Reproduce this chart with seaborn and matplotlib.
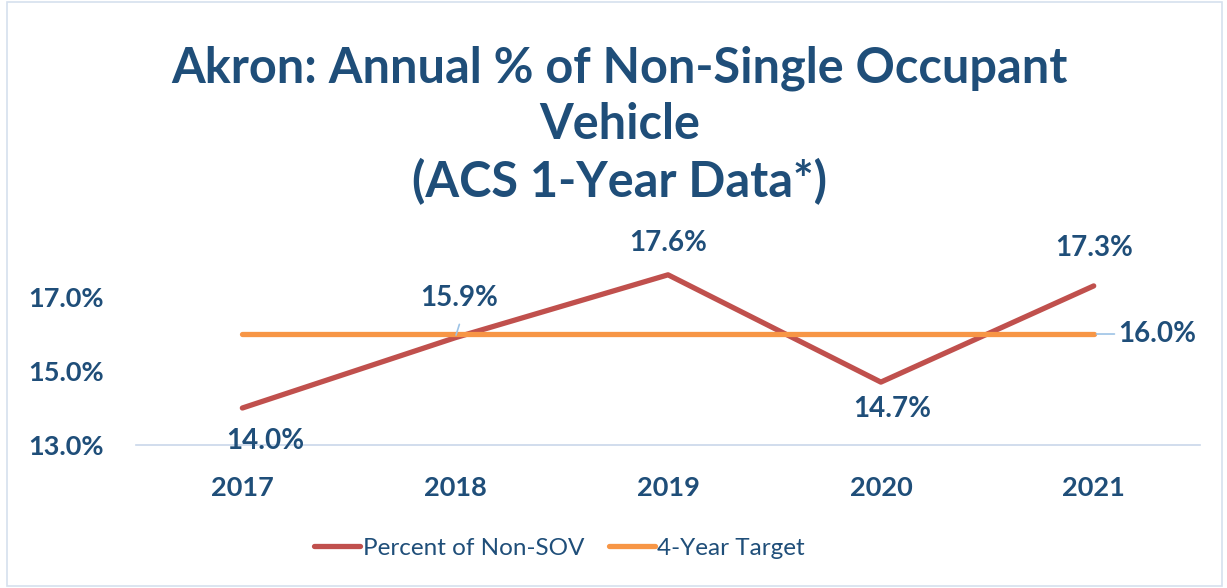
import numpy as np
import pandas as pd
import matplotlib
matplotlib.use('Agg')
import matplotlib.pyplot as plt
from matplotlib.patches import Rectangle
import seaborn as sns

years = ['2017', '2018', '2019', '2020', '2021']
non_sov = [14.0, 15.9, 17.6, 14.7, 17.3]
target = [16.0, 16.0, 16.0, 16.0, 16.0]
y_ticks = [13.0, 15.0, 17.0]

series_names = ['Percent of Non-SOV', '4-Year Target']
colors = ['#C0504D', '#F79646']
text_color = '#1F4E79'
axis_color = '#C9D7EA'

df = pd.DataFrame({
    'year': years * 2,
    'value': non_sov + target,
    'series': [series_names[0]] * len(years) + [series_names[1]] * len(years),
})
df['x'] = df['year'].map({y: i for i, y in enumerate(years)})

sns.set_theme(style='white')
plt.rcParams['font.family'] = ['Lato', 'DejaVu Sans']

fig = plt.figure(figsize=(12.27, 5.88), dpi=100)
ax = fig.add_axes([0.1108, 0.2432, 0.8673, 0.3146])

sns.lineplot(data=df, x='x', y='value', hue='series', palette=colors,
             linewidth=3.8, ax=ax, legend=False, solid_capstyle='round')

ax.set_xlim(-0.5, len(years) - 0.5)
ax.set_ylim(13, 18)
ax.set_xticks(range(len(years)))
ax.set_xticklabels(years)
ax.set_yticks(y_ticks)
ax.set_yticklabels([f'{v:.1f}%' for v in y_ticks])
ax.set_xlabel('')
ax.set_ylabel('')

for s in ['top', 'right', 'left']:
    ax.spines[s].set_visible(False)
ax.spines['bottom'].set_color(axis_color)
ax.spines['bottom'].set_linewidth(1.2)

# category tick marks between years
ax.set_xticks(np.arange(-0.5, len(years), 1), minor=True)
ax.tick_params(axis='x', which='minor', length=8, color=axis_color, width=1.2, direction='out')
ax.tick_params(axis='x', which='major', length=0, pad=22, labelsize=19.5, labelcolor=text_color)
ax.tick_params(axis='y', length=0, pad=23, labelsize=19.5, labelcolor=text_color)
for lab in ax.get_xticklabels() + ax.get_yticklabels():
    lab.set_fontweight('bold')

# data labels
label_offsets = [(23, -33), (4, 40), (0, 32), (11, -27), (0, 38)]
for i, (v, off) in enumerate(zip(non_sov, label_offsets)):
    ax.annotate(f'{v:.1f}%', (i, v), xytext=off, textcoords='offset pixels',
                ha='center', va='center', fontsize=20, fontweight='bold',
                color=text_color, annotation_clip=False)

# leader line for 2018 label
ax.annotate('', (1, non_sov[1]), xytext=(5, 16), textcoords='offset pixels',
            arrowprops=dict(arrowstyle='-', color='#9DC3E6', lw=1.2))

last = len(years) - 1
ax.annotate(f'{target[last]:.1f}%', (last, target[last]), xytext=(24, 0),
            textcoords='offset pixels', ha='left', va='center', fontsize=20,
            fontweight='bold', color=text_color, annotation_clip=False,
            arrowprops=dict(arrowstyle='-', color='#9DC3E6', lw=1.2,
                            shrinkA=0, shrinkB=2))

fig.text(0.505, 0.787, 'Akron: Annual % of Non-Single Occupant\nVehicle\n(ACS 1-Year Data*)',
         ha='center', va='center', fontsize=35, fontweight='bold', color=text_color,
         linespacing=1.3)

handles = [plt.Line2D([0], [0], color=c, lw=3.8, solid_capstyle='round') for c in colors]
fig.legend(handles, series_names, loc='center', bbox_to_anchor=(0.456, 0.068), ncol=2,
           frameon=False, fontsize=17.5, labelcolor=text_color, handlelength=1.9,
           handletextpad=0.1, columnspacing=1.0)

fig.patches.append(Rectangle((0.006, 0.004), 0.99, 0.992, transform=fig.transFigure,
                             fill=False, edgecolor='#D6E0EE', lw=1.2))

fig.savefig('out.png', dpi=100)
